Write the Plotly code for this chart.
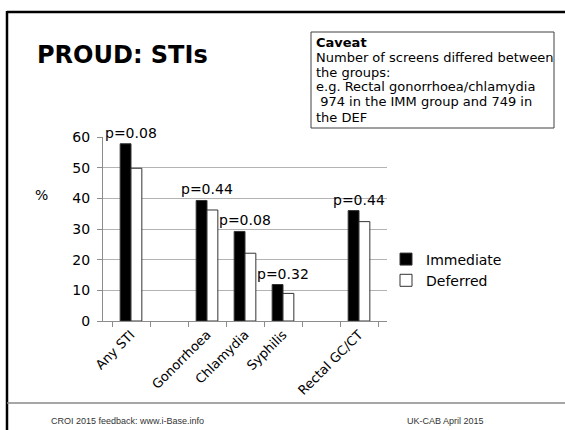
import plotly.graph_objects as go

# categories (blank slots keep the gaps between groups)
categories = ["Any STI", " ", "Gonorrhoea", "Chlamydia", "Syphilis", "  ", "Rectal GC/CT"]
immediate = [57.8, None, 39.3, 29.2, 11.9, None, 36.0]
deferred = [49.8, None, 36.2, 22.1, 9.0, None, 32.4]
p_values = ["p=0.08", None, "p=0.44", "p=0.08", "p=0.32", None, "p=0.44"]

title_text = "PROUD: STIs"
caveat_lines = [
    "<b>Caveat</b>",
    "Number of screens differed between",
    "the groups:",
    "e.g. Rectal gonorrhoea/chlamydia",
    "\u00a0974 in the IMM group and 749 in",
    "the DEF",
]
footer_left = "CROI 2015 feedback: www.i-Base.info"
footer_right = "UK-CAB April 2015"

# plot area in pixels, used to place the slide decorations
W, H = 565, 430
L, R, T, B = 103, 387, 137, 321


def px(x):
    return (x - L) / (R - L)


def py(y):
    return (B - y) / (B - T)


font = "DejaVu Sans, Verdana, sans-serif"

fig = go.Figure()
fig.add_trace(go.Bar(x=categories, y=immediate, name="Immediate",
                     marker=dict(color="black", line=dict(color="#333333", width=1))))
fig.add_trace(go.Bar(x=categories, y=deferred, name="Deferred",
                     marker=dict(color="white", line=dict(color="#333333", width=1))))

ann = []
for c, v, p in zip(categories, immediate, p_values):
    if p is None:
        continue
    ann.append(dict(x=c, y=v, text=p, showarrow=False, yanchor="bottom", yshift=1,
                    font=dict(family=font, size=14, color="black")))

ann.append(dict(x=px(35), y=py(55), xref="paper", yref="paper", text="<b>" + title_text + "</b>",
                showarrow=False, xanchor="left", yanchor="middle",
                font=dict(family=font, size=24, color="black")))
ann.append(dict(x=px(33), y=py(185), xref="paper", yref="paper", text="%", showarrow=False,
                font=dict(family=font, size=14, color="black")))
for i, line in enumerate(caveat_lines):
    ann.append(dict(x=px(314), y=py(42 + 15 * i), xref="paper", yref="paper", text=line,
                    showarrow=False, xanchor="left", yanchor="middle",
                    font=dict(family=font, size=13, color="black")))
ann.append(dict(x=px(49), y=py(421), xref="paper", yref="paper", text=footer_left, showarrow=False,
                xanchor="left", yanchor="middle",
                font=dict(family="Liberation Sans, Arial", size=9, color="#333333")))
ann.append(dict(x=px(405), y=py(421), xref="paper", yref="paper", text=footer_right, showarrow=False,
                xanchor="left", yanchor="middle",
                font=dict(family="Liberation Sans, Arial", size=9, color="#333333")))

shapes = [
    # slide frame
    dict(type="line", xref="paper", yref="paper", x0=px(7), x1=px(566), y0=py(12), y1=py(12),
         line=dict(color="black", width=2.5)),
    dict(type="line", xref="paper", yref="paper", x0=px(7), x1=px(7), y0=py(11), y1=py(431),
         line=dict(color="black", width=2.5)),
    dict(type="line", xref="paper", yref="paper", x0=px(7), x1=px(566), y0=py(403), y1=py(403),
         line=dict(color="#888888", width=1.5)),
    # caveat box
    dict(type="rect", xref="paper", yref="paper", x0=px(311), x1=px(554), y0=py(32), y1=py(128),
         line=dict(color="#404040", width=1)),
]

fig.update_layout(
    width=W, height=H,
    margin=dict(l=L, r=W - R, t=T, b=H - B),
    paper_bgcolor="white", plot_bgcolor="white",
    barmode="group", bargap=0.43, bargroupgap=0,
    font=dict(family=font, size=13, color="black"),
    showlegend=True,
    legend=dict(x=px(386), y=py(270), xanchor="left", yanchor="middle",
                font=dict(family=font, size=14, color="black"),
                bgcolor="rgba(0,0,0,0)", itemwidth=30, tracegroupgap=0),
    annotations=ann,
    shapes=shapes,
)
fig.update_xaxes(type="category", tickangle=-45, tickson="boundaries", ticks="outside",
                 ticklen=5, tickcolor="#8c8c8c", showline=True, linecolor="#8c8c8c",
                 showgrid=False, tickfont=dict(family=font, size=13, color="black"))
fig.update_yaxes(range=[0, 60], dtick=10, ticks="outside", ticklen=5, tickcolor="#8c8c8c",
                 showline=True, linecolor="#8c8c8c", showgrid=True, gridcolor="#b3b3b3",
                 zeroline=False, ticklabelstandoff=4,
                 tickfont=dict(family=font, size=14, color="black"))

# drop the page's default body margin so the figure sits at the window corner
fig.write_html("out.html", config={"displayModeBar": False},
               post_script="document.body.style.margin='0';")
